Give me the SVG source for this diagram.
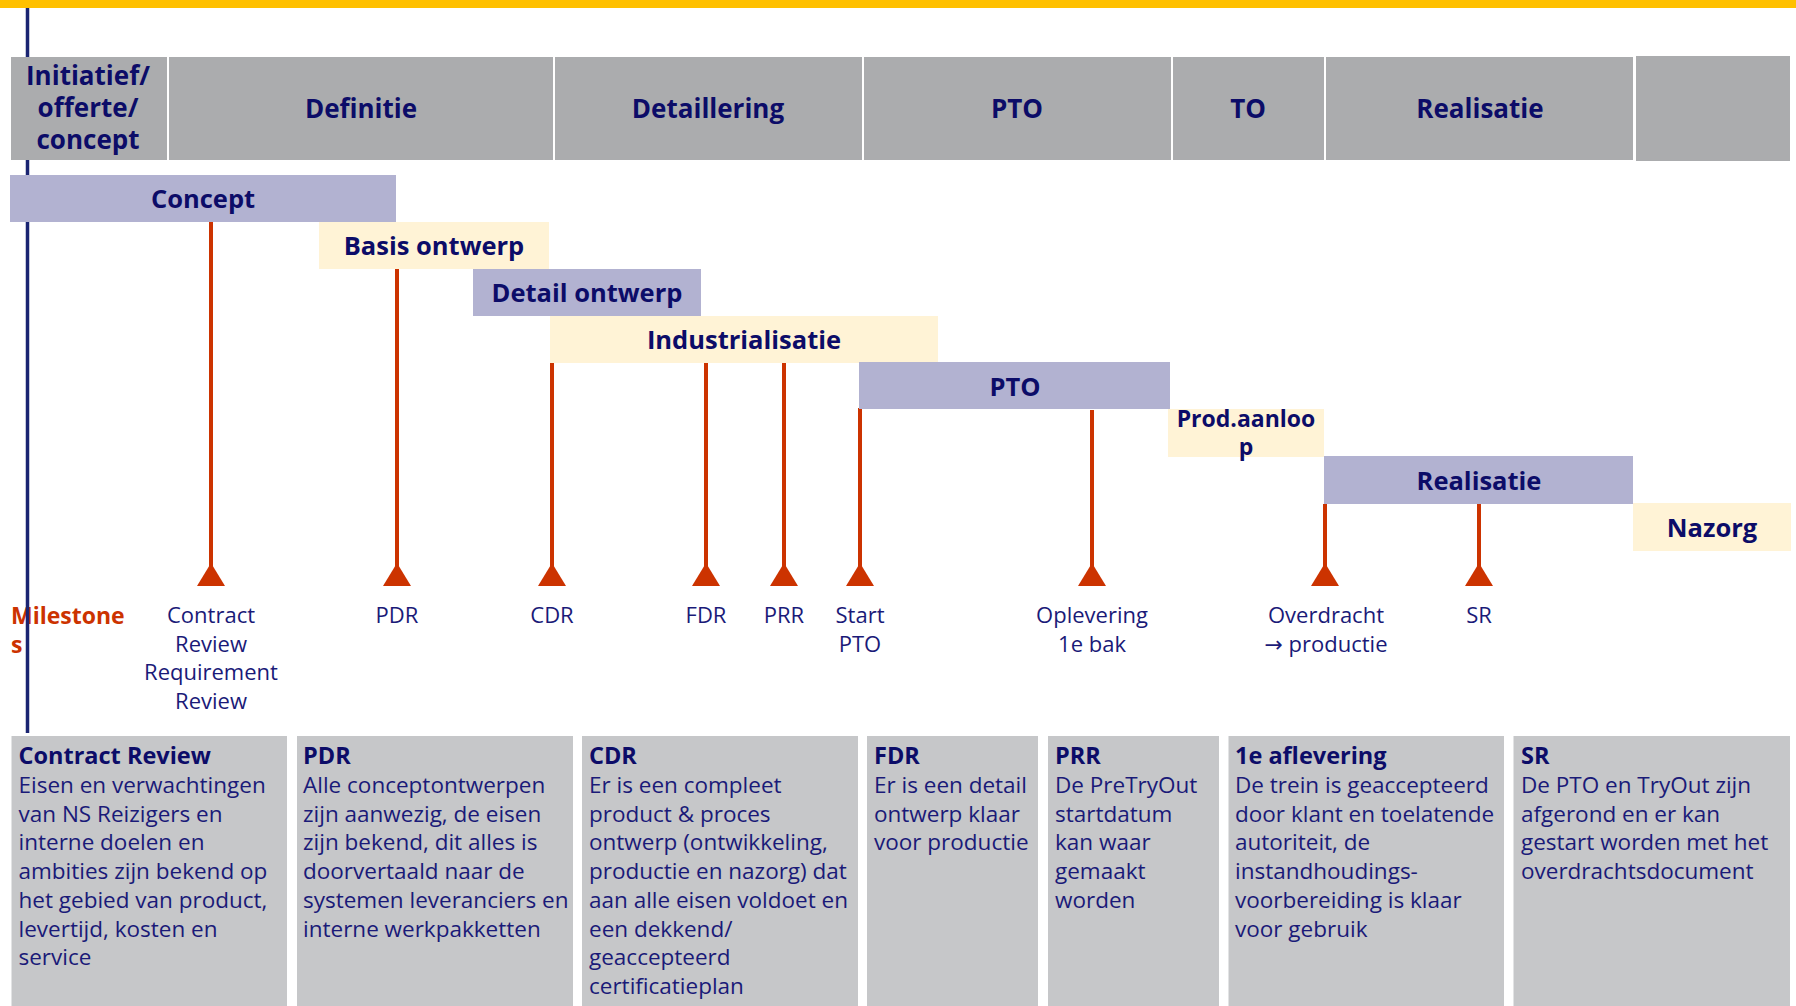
<svg xmlns="http://www.w3.org/2000/svg" width="1796" height="1006" viewBox="0 0 1796 1006">
<style>
  .hdr{fill:#ABACAE}
  .lav{fill:#B2B2D1}
  .crm{fill:#FFF3D6}
  .box{fill:#C6C7C9}
  text{font-family:"Open Sans","Noto Sans","Liberation Sans",sans-serif}
  .ht{font-weight:700;font-size:26px;fill:#0C0C68;text-anchor:middle}
  .bt{font-weight:700;font-size:25.5px;fill:#0C0C68;text-anchor:middle}
  .ml{font-size:22px;fill:#1A1A78;text-anchor:middle}
  .mst{font-weight:700;font-size:23px;fill:#CC3300}
  .tt{font-weight:700;font-size:23.5px;fill:#0C0C68}
  .bd{font-size:22.5px;fill:#1A1A78}
  .arr{font-family:"DejaVu Sans",sans-serif;font-size:22px}
  .ms{stroke:#CC3300;stroke-width:4;fill:none;marker-end:url(#tri)}
</style>
<defs>
  <marker id="tri" markerUnits="userSpaceOnUse" markerWidth="30" markerHeight="25" refX="15" refY="24" orient="0" viewBox="0 0 30 25">
    <path d="M15,1 L29,24 L1,24 Z" fill="#CC3300"/>
  </marker>
</defs>
<rect x="0" y="0" width="1796" height="1006" fill="#FFFFFF"/>
<rect x="0" y="0" width="1796" height="8" fill="#FFC000"/>

<text class="mst" x="11" y="624"><tspan x="11">Milestone</tspan><tspan x="11" dy="29">s</tspan></text>
<line x1="27.5" y1="8" x2="27.5" y2="733" stroke="#1A2472" stroke-width="3.5"/>

<g id="header">
  <g id="h1"><rect class="hdr" x="11" y="57" width="156" height="103"/>
    <text class="ht" x="88" y="85"><tspan x="88">Initiatief/</tspan><tspan x="88" dy="32">offerte/</tspan><tspan x="88" dy="32">concept</tspan></text></g>
  <g id="h2"><rect class="hdr" x="169" y="57" width="384" height="103"/><text class="ht" x="361" y="118">Definitie</text></g>
  <g id="h3"><rect class="hdr" x="555" y="57" width="307" height="103"/><text class="ht" x="708" y="118">Detaillering</text></g>
  <g id="h4"><rect class="hdr" x="864" y="57" width="307" height="103"/><text class="ht" x="1017" y="118">PTO</text></g>
  <g id="h5"><rect class="hdr" x="1173" y="57" width="151" height="103"/><text class="ht" x="1248" y="118">TO</text></g>
  <g id="h6"><rect class="hdr" x="1326" y="57" width="307" height="103"/><text class="ht" x="1480" y="118">Realisatie</text></g>
  <g id="h7"><rect class="hdr" x="1636" y="56" width="154" height="105"/></g>
</g>

<g id="connectors">
  <line class="ms" x1="211" y1="222" x2="211" y2="586"/>
  <line class="ms" x1="397" y1="269" x2="397" y2="586"/>
  <line class="ms" x1="552" y1="363" x2="552" y2="586"/>
  <line class="ms" x1="706" y1="363" x2="706" y2="586"/>
  <line class="ms" x1="784" y1="363" x2="784" y2="586"/>
  <line class="ms" x1="860" y1="408" x2="860" y2="586"/>
  <line class="ms" x1="1092" y1="410" x2="1092" y2="586"/>
  <line class="ms" x1="1325" y1="504" x2="1325" y2="586"/>
  <line class="ms" x1="1479" y1="504" x2="1479" y2="586"/>
</g>

<g id="bars">
  <g id="concept"><rect class="lav" x="10" y="175" width="386" height="47"/><text class="bt" x="203" y="208">Concept</text></g>
  <g id="basis"><rect class="crm" x="319" y="222" width="230" height="47"/><text class="bt" x="434" y="255">Basis ontwerp</text></g>
  <g id="detail"><rect class="lav" x="473" y="269" width="228" height="47"/><text class="bt" x="587" y="302">Detail ontwerp</text></g>
  <g id="indus"><rect class="crm" x="550" y="316" width="388" height="47"/><text class="bt" x="744" y="349">Industrialisatie</text></g>
  <g id="pto"><rect class="lav" x="859" y="362" width="311" height="47"/><text class="bt" x="1015" y="396">PTO</text></g>
  <g id="prod"><rect class="crm" x="1168" y="409" width="156" height="48"/>
    <text class="bt" x="1246" y="427" style="font-size:23px"><tspan x="1246">Prod.aanloo</tspan><tspan x="1246" dy="28">p</tspan></text></g>
  <g id="realisatie"><rect class="lav" x="1324" y="456" width="309" height="48"/><text class="bt" x="1479" y="490">Realisatie</text></g>
  <g id="nazorg"><rect class="crm" x="1633" y="503" width="158" height="48"/><text class="bt" x="1712" y="537">Nazorg</text></g>
</g>

<g id="milestones">
  <text class="ml" x="211" y="623"><tspan x="211">Contract</tspan><tspan x="211" dy="28.7">Review</tspan><tspan x="211" dy="28.7">Requirement</tspan><tspan x="211" dy="28.7">Review</tspan></text>
  <text class="ml" x="397" y="623">PDR</text>
  <text class="ml" x="552" y="623">CDR</text>
  <text class="ml" x="706" y="623">FDR</text>
  <text class="ml" x="784" y="623">PRR</text>
  <text class="ml" x="860" y="623"><tspan x="860">Start</tspan><tspan x="860" dy="28.7">PTO</tspan></text>
  <text class="ml" x="1092" y="623"><tspan x="1092">Oplevering</tspan><tspan x="1092" dy="28.7">1e bak</tspan></text>
  <text class="ml" x="1326" y="623"><tspan x="1326">Overdracht</tspan><tspan x="1326" dy="28.7"><tspan class="arr">→</tspan> productie</tspan></text>
  <text class="ml" x="1479" y="623">SR</text>
</g>

<g id="boxes">
  <g id="b1"><rect class="box" x="11.5" y="736" width="275.5" height="270"/>
    <text class="tt" x="18.5" y="764">Contract Review</text>
    <text class="bd" y="793"><tspan x="18.5">Eisen en verwachtingen</tspan><tspan x="18.5" dy="28.7">van NS Reizigers en</tspan><tspan x="18.5" dy="28.7">interne doelen en</tspan><tspan x="18.5" dy="28.7">ambities zijn bekend op</tspan><tspan x="18.5" dy="28.7">het gebied van product,</tspan><tspan x="18.5" dy="28.7">levertijd, kosten en</tspan><tspan x="18.5" dy="28.7">service</tspan></text></g>
  <g id="b2"><rect class="box" x="297" y="736" width="276" height="270"/>
    <text class="tt" x="303" y="764">PDR</text>
    <text class="bd" y="793"><tspan x="303">Alle conceptontwerpen</tspan><tspan x="303" dy="28.7">zijn aanwezig, de eisen</tspan><tspan x="303" dy="28.7">zijn bekend, dit alles is</tspan><tspan x="303" dy="28.7">doorvertaald naar de</tspan><tspan x="303" dy="28.7">systemen leveranciers en</tspan><tspan x="303" dy="28.7">interne werkpakketten</tspan></text></g>
  <g id="b3"><rect class="box" x="582" y="736" width="276" height="270"/>
    <text class="tt" x="589" y="764">CDR</text>
    <text class="bd" y="793"><tspan x="589">Er is een compleet</tspan><tspan x="589" dy="28.7">product &amp; proces</tspan><tspan x="589" dy="28.7">ontwerp (ontwikkeling,</tspan><tspan x="589" dy="28.7">productie en nazorg) dat</tspan><tspan x="589" dy="28.7">aan alle eisen voldoet en</tspan><tspan x="589" dy="28.7">een dekkend/</tspan><tspan x="589" dy="28.7">geaccepteerd</tspan><tspan x="589" dy="28.7">certificatieplan</tspan></text></g>
  <g id="b4"><rect class="box" x="867" y="736" width="171" height="270"/>
    <text class="tt" x="874" y="764">FDR</text>
    <text class="bd" y="793"><tspan x="874">Er is een detail</tspan><tspan x="874" dy="28.7">ontwerp klaar</tspan><tspan x="874" dy="28.7">voor productie</tspan></text></g>
  <g id="b5"><rect class="box" x="1048" y="736" width="171" height="270"/>
    <text class="tt" x="1055" y="764">PRR</text>
    <text class="bd" y="793"><tspan x="1055">De PreTryOut</tspan><tspan x="1055" dy="28.7">startdatum</tspan><tspan x="1055" dy="28.7">kan waar</tspan><tspan x="1055" dy="28.7">gemaakt</tspan><tspan x="1055" dy="28.7">worden</tspan></text></g>
  <g id="b6"><rect class="box" x="1228.5" y="736" width="275.5" height="270"/>
    <text class="tt" x="1235" y="764">1e aflevering</text>
    <text class="bd" y="793"><tspan x="1235">De trein is geaccepteerd</tspan><tspan x="1235" dy="28.7">door klant en toelatende</tspan><tspan x="1235" dy="28.7">autoriteit, de</tspan><tspan x="1235" dy="28.7">instandhoudings-</tspan><tspan x="1235" dy="28.7">voorbereiding is klaar</tspan><tspan x="1235" dy="28.7">voor gebruik</tspan></text></g>
  <g id="b7"><rect class="box" x="1513.5" y="736" width="276.5" height="270"/>
    <text class="tt" x="1521" y="764">SR</text>
    <text class="bd" y="793"><tspan x="1521">De PTO en TryOut zijn</tspan><tspan x="1521" dy="28.7">afgerond en er kan</tspan><tspan x="1521" dy="28.7">gestart worden met het</tspan><tspan x="1521" dy="28.7">overdrachtsdocument</tspan></text></g>
</g>
</svg>
